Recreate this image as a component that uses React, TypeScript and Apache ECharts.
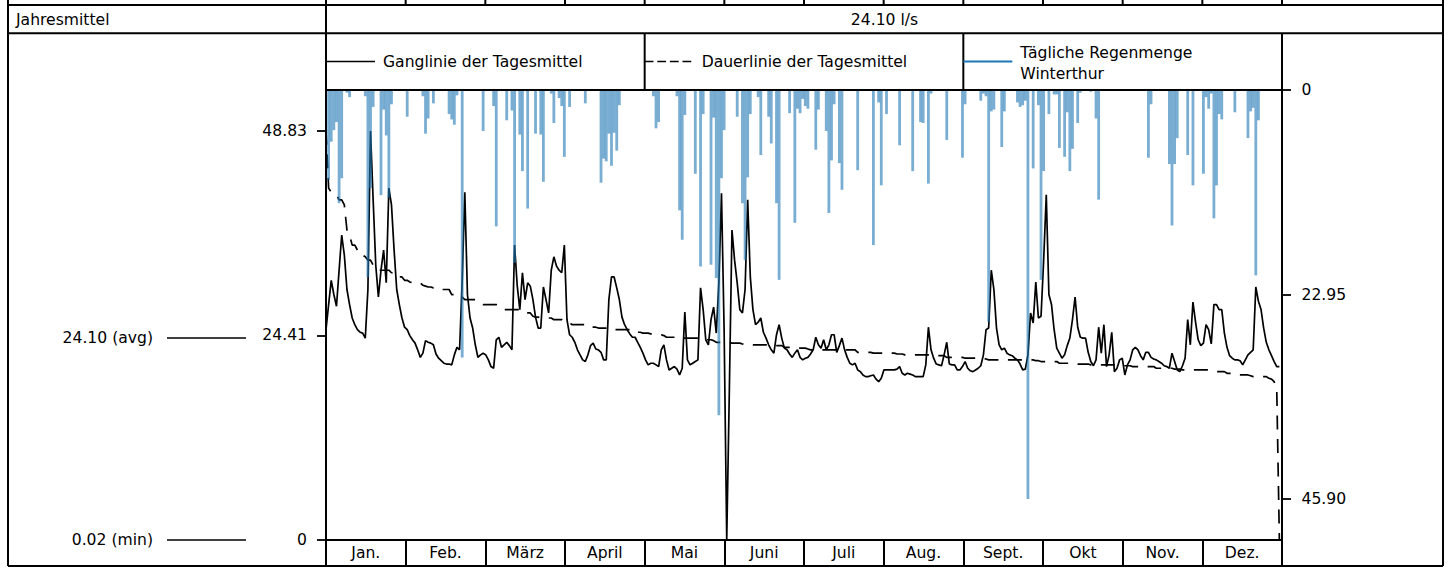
import React, { useEffect, useRef } from "react";
import * as echarts from "echarts";

// ---------- data (l/s daily means, mm daily rain) ----------
const flowJan = [25.1, 28.1, 31.0, 29.3, 27.9, 32.2, 36.4, 34.0, 29.9, 28.1, 26.5, 25.7, 25.1, 24.8, 24.7, 24.1, 29.9, 48.83, 40.6, 32.8, 29.0, 32.2, 34.6, 30.7, 42.0, 40.0, 34.6, 29.9, 28.1, 26.5, 25.4];
const flowFeb = [25.1, 24.4, 23.9, 23.5, 22.7, 21.8, 22.3, 23.8, 23.6, 23.5, 23.3, 22.2, 21.7, 21.4, 21.1, 21.0, 21.0, 20.9, 22.1, 23.0, 22.7, 31.0, 41.5, 29.3, 26.5, 25.3, 23.3, 21.8];
const flowMar = [22.1, 22.3, 22.1, 21.5, 20.7, 20.5, 23.9, 24.2, 23.0, 23.3, 23.6, 23.2, 22.7, 35.2, 30.4, 27.5, 31.9, 28.7, 30.7, 30.3, 28.7, 26.6, 25.3, 25.3, 30.2, 28.7, 27.1, 32.2, 33.8, 32.7, 32.2];
const flowApr = [31.9, 35.2, 26.3, 24.5, 24.2, 23.6, 22.7, 22.1, 21.5, 21.3, 22.1, 23.2, 23.5, 22.8, 22.7, 22.4, 21.5, 21.5, 28.7, 31.4, 31.4, 30.1, 28.7, 26.6, 25.7, 25.1, 24.6, 24.2, 24.2, 23.6];
const flowMay = [23.0, 22.3, 21.5, 20.9, 21.1, 21.1, 20.9, 20.7, 22.7, 23.3, 21.5, 20.3, 20.5, 20.7, 20.4, 19.7, 20.5, 27.2, 21.5, 20.9, 21.1, 21.3, 21.5, 30.1, 27.5, 23.9, 23.3, 26.3, 27.8, 24.7, 30.7];
const flowJun = [41.4, 25.1, 0.02, 17.9, 37.0, 33.4, 30.7, 27.5, 27.1, 29.9, 40.6, 31.4, 27.5, 25.7, 26.0, 26.5, 24.8, 24.1, 23.3, 22.7, 22.3, 24.5, 25.7, 24.1, 22.9, 22.7, 22.2, 21.8, 22.3, 22.7];
const flowJul = [21.8, 21.5, 21.7, 21.8, 22.2, 22.7, 24.2, 23.3, 22.9, 23.9, 22.7, 23.3, 24.5, 24.5, 22.4, 23.2, 24.1, 22.7, 21.8, 21.1, 20.9, 21.1, 20.3, 20.1, 19.7, 19.5, 19.5, 19.6, 19.7, 19.2, 18.9];
const flowAug = [19.3, 20.3, 20.3, 20.3, 20.3, 20.3, 20.4, 20.7, 19.9, 19.7, 19.9, 19.8, 19.7, 19.5, 19.5, 19.5, 19.5, 20.9, 25.4, 22.7, 21.7, 21.0, 20.9, 20.8, 22.1, 23.6, 21.0, 20.9, 20.9, 20.3, 20.3];
const flowSep = [20.7, 21.3, 20.5, 20.2, 20.1, 20.3, 20.5, 20.8, 22.1, 25.1, 25.3, 32.2, 29.9, 25.3, 23.3, 22.7, 22.9, 22.3, 22.1, 22.0, 21.7, 21.5, 21.0, 20.3, 20.4, 22.1, 27.1, 25.9, 30.8, 26.5];
const flowOct = [26.7, 33.4, 41.2, 29.3, 28.1, 25.1, 22.9, 22.3, 21.7, 22.1, 23.2, 24.1, 26.3, 29.0, 25.4, 24.2, 24.1, 24.1, 22.4, 21.3, 20.8, 21.5, 25.4, 22.3, 25.7, 20.7, 22.1, 24.8, 20.1, 20.5, 21.5];
const flowNov = [21.7, 19.7, 20.9, 21.5, 22.7, 23.0, 22.7, 22.0, 21.5, 22.4, 22.4, 21.8, 21.6, 21.5, 21.3, 21.1, 20.8, 20.7, 20.5, 22.3, 21.3, 20.3, 20.1, 20.8, 21.7, 26.3, 23.3, 28.4, 26.0, 23.9];
const flowDec = [23.2, 23.5, 25.7, 25.1, 23.4, 28.1, 28.1, 27.5, 27.5, 24.7, 23.0, 22.0, 21.7, 21.5, 21.5, 21.4, 20.9, 21.5, 22.1, 22.4, 22.7, 30.2, 28.5, 27.5, 25.3, 23.6, 22.7, 22.0, 21.3, 20.7, 20.7];

// [day of year (0-based), rain in mm]
const rainDaily: [number, number][] = [
  [1, 10.1], [2, 5.8], [3, 4.5], [4, 3.6], [5, 12.7], [6, 9.9], [8, 0.3], [9, 0.8], [15, 0.7], [16, 21.0], [17, 11.0], [18, 1.9],
  [21, 11.8], [22, 2.2], [23, 5.1], [24, 12.1], [25, 1.6], [31, 3.0], [37, 0.7], [38, 4.9], [39, 3.2], [41, 1.5], [47, 2.7], [48, 3.3],
  [49, 3.9], [50, 0.6], [52, 30.0], [60, 4.6], [64, 1.8], [65, 15.3], [69, 3.4], [71, 2.3], [72, 19.4], [74, 5.0], [75, 9.1], [77, 13.3],
  [80, 4.9], [82, 5.0], [83, 10.3], [86, 0.4], [87, 3.7], [89, 0.9], [90, 1.8], [91, 7.5], [93, 1.9], [99, 1.5], [105, 10.4], [106, 7.7],
  [107, 8.0], [108, 4.9], [109, 8.5], [110, 4.8], [111, 6.8], [112, 1.7], [125, 0.7], [126, 4.3], [127, 3.6], [134, 0.7], [135, 13.5],
  [136, 16.8], [137, 2.8], [141, 9.4], [143, 19.8], [144, 2.7], [147, 19.6], [148, 3.1], [149, 21.1], [150, 36.5], [151, 9.9], [152, 4.5],
  [157, 3.0], [159, 12.7], [160, 19.1], [161, 9.8], [162, 2.7], [165, 0.8], [166, 7.3], [169, 3.0], [170, 6.0], [172, 12.7], [173, 21.3],
  [177, 2.6], [179, 14.9], [180, 2.1], [181, 2.6], [182, 1.0], [183, 1.8], [184, 2.1], [187, 6.7], [188, 2.2], [191, 4.6], [192, 13.8],
  [193, 7.9], [194, 1.6], [196, 8.2], [197, 11.2], [203, 9.0], [209, 17.4], [211, 1.4], [212, 10.7], [214, 2.7], [219, 6.2], [224, 9.1],
  [227, 3.6], [228, 3.7], [230, 10.5], [231, 0.4], [237, 5.6], [243, 7.6], [244, 1.6], [250, 1.2], [251, 0.4], [252, 0.7], [253, 26.0],
  [254, 2.4], [255, 2.2], [258, 6.4], [259, 2.4], [264, 1.4], [265, 1.9], [266, 1.7], [267, 1.2], [268, 45.9], [270, 8.8], [272, 1.7],
  [273, 21.3], [274, 9.1], [276, 2.7], [278, 0.5], [279, 0.5], [280, 6.5], [282, 7.5], [283, 2.5], [284, 9.1], [285, 6.6], [287, 3.7],
  [288, 0.3], [292, 0.2], [294, 3.2], [295, 12.3], [314, 7.6], [315, 1.6], [322, 8.3], [323, 15.2], [324, 8.3], [325, 5.4], [329, 7.3],
  [331, 10.7], [335, 9.4], [336, 0.8], [337, 2.1], [338, 0.4], [339, 14.4], [340, 10.7], [341, 2.7], [342, 3.3], [347, 2.5], [352, 5.4],
  [353, 2.4], [354, 2.0], [355, 20.8], [356, 3.4],
];

const months = ["Jan.", "Feb.", "März", "April", "Mai", "Juni", "Juli", "Aug.", "Sept.", "Okt", "Nov.", "Dez."];
const legendLabels = ["Ganglinie der Tagesmittel", "Dauerlinie der Tagesmittel", "Tägliche Regenmenge\nWinterthur"];
const annualMean = 24.1;
const minFlow = 0.02;
const daysInYear = 365;

// ---------- derived ----------
const flow = [
  ...flowJan, ...flowFeb, ...flowMar, ...flowApr, ...flowMay, ...flowJun,
  ...flowJul, ...flowAug, ...flowSep, ...flowOct, ...flowNov, ...flowDec,
];
const durationCurve = [...flow].sort((a, b) => b - a);
const flowMax = Math.max(...flow);
const rainMax = Math.max(...rainDaily.map((d) => d[1]));
const flowTicks = [0, flowMax / 2, flowMax];
const rainTicks = [0, rainMax / 2, rainMax];

// ---------- layout ----------
const W = 1454;
const H = 568;
const FONT = "DejaVu Sans";
const FS = 15.6;
const FRAME = { left: 8, right: 1443, row1: 5, row2: 33.3, bottom: 566 };
const PLOT = { left: 326, right: 1282, top: 90, bottom: 540 };
const BLUE = "#1f77b4";

const fmt = (v: number) => (v === 0 ? "0" : v.toFixed(2));

function gLine(x1: number, y1: number, x2: number, y2: number, extra: any = {}) {
  return {
    type: "line",
    silent: true,
    z: 100,
    shape: { x1, y1, x2, y2 },
    style: { stroke: "#000", lineWidth: 2, ...extra },
  };
}

function gText(text: string, x: number, y: number, align: string, extra: any = {}) {
  return {
    type: "text",
    silent: true,
    z: 100,
    x,
    y,
    style: {
      text,
      fill: "#000",
      fontFamily: FONT,
      fontSize: FS,
      textAlign: align,
      textVerticalAlign: "middle",
      ...extra,
    },
  };
}

function buildGraphic() {
  const g: any[] = [];
  const plotW = PLOT.right - PLOT.left;
  // frame
  g.push(gLine(FRAME.left, 0, FRAME.left, FRAME.bottom));
  g.push(gLine(FRAME.right, 0, FRAME.right, FRAME.bottom));
  g.push(gLine(FRAME.left, FRAME.row1, FRAME.right, FRAME.row1));
  g.push(gLine(FRAME.left, FRAME.row2, FRAME.right, FRAME.row2));
  g.push(gLine(FRAME.left, FRAME.bottom, FRAME.right, FRAME.bottom));
  g.push(gLine(PLOT.left, 0, PLOT.left, FRAME.bottom));
  g.push(gLine(PLOT.right, FRAME.row2, PLOT.right, FRAME.bottom));
  g.push(gLine(PLOT.left, PLOT.top, PLOT.right, PLOT.top));
  // cut-off row on top with month separators
  for (let k = 1; k <= months.length; k++) {
    const x = PLOT.left + (k * plotW) / months.length;
    g.push(gLine(x, 0, x, FRAME.row1));
  }
  // Jahresmittel row
  g.push(gText("Jahresmittel", 16, 19.5, "left"));
  g.push(gText(`${annualMean.toFixed(2)} l/s`, (PLOT.left + FRAME.right) / 2, 19.5, "center"));
  // legend row
  const cellW = plotW / 3;
  const ly = 61.5;
  for (let i = 1; i < 3; i++) {
    const x = PLOT.left + i * cellW;
    g.push(gLine(x, FRAME.row2, x, PLOT.top));
  }
  const c0 = PLOT.left;
  const c1 = PLOT.left + cellW;
  const c2 = PLOT.left + 2 * cellW;
  g.push(gLine(c0, ly, c0 + 49, ly, { lineWidth: 1.7 }));
  g.push(gText(legendLabels[0], c0 + 57, ly, "left"));
  g.push(gLine(c1, ly, c1 + 48, ly, { lineWidth: 1.7, lineDash: [8.8, 3.8] }));
  g.push(gText(legendLabels[1], c1 + 57, ly, "left"));
  g.push(gLine(c2, ly, c2 + 49, ly, { lineWidth: 2, stroke: BLUE }));
  g.push(gText(legendLabels[2], c2 + 57, 63.5, "left", { lineHeight: 20.5 }));
  return g;
}

export default function App() {
  const ref = useRef<HTMLDivElement>(null);

  useEffect(() => {
    if (!ref.current) return;
    const chart = echarts.init(ref.current, null, { renderer: "svg", width: W, height: H });
    const axisLineStyle = { color: "#000", width: 2 };
    const labelStyle = { color: "#000", fontSize: FS, fontFamily: FONT };

    const option: any = {
      animation: false,
      backgroundColor: "#ffffff",
      textStyle: { fontFamily: FONT },
      grid: [
        { left: PLOT.left, top: PLOT.top, width: PLOT.right - PLOT.left, height: PLOT.bottom - PLOT.top, outerBoundsMode: "none", containLabel: false },
        { left: 167, top: PLOT.top, width: 79, height: PLOT.bottom - PLOT.top, outerBoundsMode: "none", containLabel: false },
      ],
      xAxis: [
        { type: "value", gridIndex: 0, min: 0, max: daysInYear, show: false, position: "top", axisLine: { onZero: false } },
        {
          type: "category",
          gridIndex: 0,
          position: "bottom",
          data: months,
          boundaryGap: true,
          axisLine: { show: true, onZero: false, lineStyle: axisLineStyle },
          axisTick: { show: true, interval: 0, length: 26, inside: false, lineStyle: axisLineStyle },
          axisLabel: { interval: 0, margin: 13, verticalAlign: "middle", ...labelStyle },
          splitLine: { show: false },
        },
        { type: "value", gridIndex: 1, min: 0, max: 1, show: false, axisLine: { onZero: false } },
      ],
      yAxis: [
        {
          type: "value",
          gridIndex: 0,
          position: "left",
          min: 0,
          max: flowMax * 1.1,
          axisLine: { show: true, onZero: false, lineStyle: axisLineStyle },
          axisTick: { show: true, length: 9, customValues: flowTicks, lineStyle: { color: "#000", width: 1.8 } },
          axisLabel: { customValues: flowTicks, formatter: fmt, margin: 19, ...labelStyle },
          splitLine: { show: false },
        },
        {
          type: "value",
          gridIndex: 0,
          position: "right",
          inverse: true,
          min: 0,
          max: rainMax * 1.1,
          axisLine: { show: true, onZero: false, lineStyle: axisLineStyle },
          axisTick: { show: true, length: 9, customValues: rainTicks, lineStyle: { color: "#000", width: 1.8 } },
          axisLabel: { customValues: rainTicks, formatter: fmt, margin: 19.5, ...labelStyle },
          splitLine: { show: false },
        },
        { type: "value", gridIndex: 1, min: 0, max: flowMax * 1.1, show: false, axisLine: { onZero: false } },
      ],
      series: [
        {
          name: legendLabels[1],
          type: "line",
          xAxisIndex: 0,
          yAxisIndex: 0,
          data: durationCurve.map((v, i) => [i, v]),
          symbol: "none",
          showSymbol: false,
          lineStyle: { color: "#000", width: 1.7, type: [14, 9.5] },
          emphasis: { disabled: true },
          z: 2,
        },
        {
          name: legendLabels[0],
          type: "line",
          xAxisIndex: 0,
          yAxisIndex: 0,
          data: flow.map((v, i) => [i, v]),
          symbol: "none",
          showSymbol: false,
          lineStyle: { color: "#000", width: 1.7 },
          emphasis: { disabled: true },
          z: 3,
        },
        {
          name: legendLabels[2],
          type: "bar",
          xAxisIndex: 0,
          yAxisIndex: 1,
          data: rainDaily,
          barWidth: 2.8,
          itemStyle: { color: "rgba(31,119,180,0.6)" },
          emphasis: { disabled: true },
          z: 4,
        },
        {
          type: "line",
          xAxisIndex: 2,
          yAxisIndex: 2,
          data: [],
          markLine: {
            silent: true,
            symbol: ["none", "none"],
            lineStyle: { color: "#000", width: 1.6, type: "solid" },
            emphasis: { disabled: true },
            label: {
              show: true,
              position: "start",
              distance: 14,
              formatter: (p: any) => p.name,
              ...labelStyle,
            },
            data: [
              { yAxis: annualMean, name: `${annualMean.toFixed(2)} (avg)` },
              { yAxis: minFlow, name: `${minFlow.toFixed(2)} (min)` },
            ],
          },
        },
      ],
      graphic: buildGraphic(),
    };

    chart.setOption(option);
    return () => chart.dispose();
  }, []);

  return (
    <div
      ref={ref}
      style={{ position: "fixed", left: 0, top: 0, width: W, height: H, background: "#fff" }}
    />
  );
}
